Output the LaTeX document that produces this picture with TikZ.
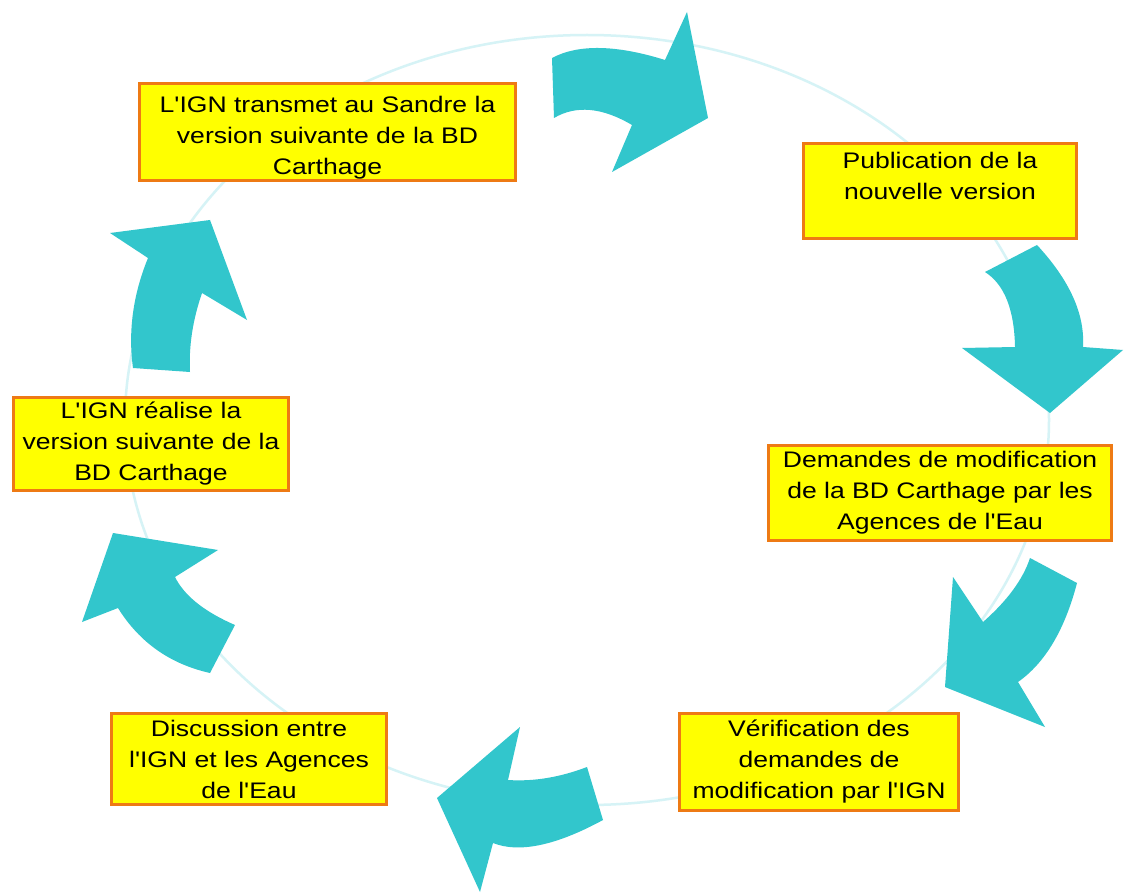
\documentclass[tikz,border=0pt]{standalone}
\usepackage{fontspec}
\setmainfont{Liberation Sans}[FakeStretch=1.18, Ligatures=TeXOff]
\definecolor{arrowcyan}{RGB}{50,198,204}
\definecolor{boxyellow}{RGB}{255,255,0}
\definecolor{boxorange}{RGB}{238,122,20}
\definecolor{ringcyan}{RGB}{214,243,246}
\tikzset{
  stepbox/.style={draw=boxorange, line width=3pt, fill=boxyellow, align=center,
    inner sep=0pt, text=black, font=\fontsize{22.5}{31}\selectfont},
  cyc/.style={fill=arrowcyan, draw=none}
}
\begin{document}
\begin{tikzpicture}[x=1pt,y=-1pt]
\useasboundingbox (0,0) rectangle (1124,893);
\fill[white] (0,0) rectangle (1124,893);
% faint ring
\draw[ringcyan, line width=2.5pt] (587,420) ellipse [x radius=462pt, y radius=385pt];
% cycle arrows
\fill[cyc] (552,58) .. controls (578.3,44) and (616,44.7) .. (665,60) -- (687,12) -- (708,118) -- (612,172) -- (632,125) .. controls (602,107.3) and (576,105) .. (554,118) -- cycle;
\fill[cyc] (985,272) -- (1037,245) .. controls (1069.7,280.3) and (1085,314.3) .. (1083,347) -- (1123,350) -- (1050,413) -- (962,348) -- (1015,347) .. controls (1014.3,309.3) and (1004.3,284.3) .. (985,272) -- cycle;
\fill[cyc] (1030,558) -- (1077,583) .. controls (1064.7,630) and (1045,663) .. (1018,682) -- (1045,727) -- (945,687) -- (953,577) -- (983,622) .. controls (1007.3,600.7) and (1023,579.3) .. (1030,558) -- cycle;
\fill[cyc] (587,767) .. controls (560,777.3) and (533.7,781.7) .. (508,780) -- (520,727) -- (437,798) -- (480,892) -- (493,843) .. controls (519,853.3) and (555.7,845.7) .. (603,820) -- cycle;
\fill[cyc] (113,533) -- (218,550) -- (175,577) .. controls (184.3,595.7) and (204.3,611.7) .. (235,625) -- (210,673) .. controls (170,664) and (139.3,642.3) .. (118,608) -- (82,622) -- cycle;
\fill[cyc] (133,368) .. controls (128,331.3) and (133,294.7) .. (148,258) -- (110,233) -- (210,220) -- (247,320) -- (202,293) .. controls (192.7,320) and (188.7,346.3) .. (190,372) -- cycle;
% boxes
\node[stepbox, minimum width=376pt, minimum height=97pt] (b1) at (327.5,132) {\rule{0pt}{28pt}L'IGN transmet au Sandre la\\version suivante de la BD\\Carthage};
\node[stepbox, minimum width=273pt, minimum height=95pt] (b2) at (940,191) {Publication de la\\nouvelle version\\\mbox{}};
\node[stepbox, minimum width=343pt, minimum height=95pt] (b3) at (940,493) {Demandes de modification\\de la BD Carthage par les\\Agences de l'Eau};
\node[stepbox, minimum width=279pt, minimum height=97pt] (b4) at (819,762) {Vérification des\\demandes de\\modification par l'IGN};
\node[stepbox, minimum width=275pt, minimum height=91pt] (b5) at (249,759) {Discussion entre\\l'IGN et les Agences\\de l'Eau};
\node[stepbox, minimum width=275pt, minimum height=93pt] (b6) at (151,444) {L'IGN réalise la\\version suivante de la\\BD Carthage};
\end{tikzpicture}
\end{document}
